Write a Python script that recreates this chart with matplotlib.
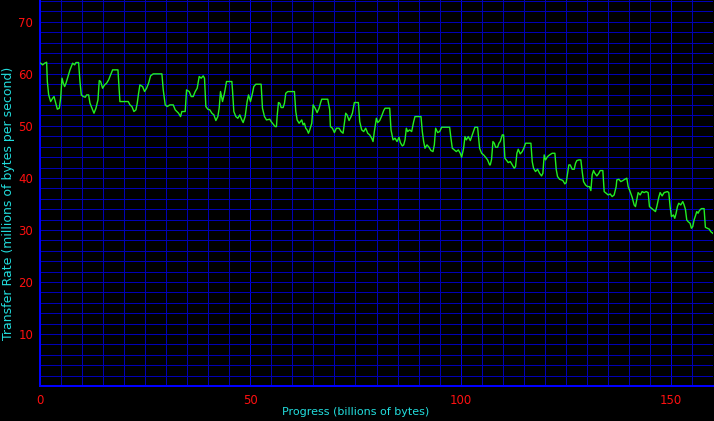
import matplotlib
matplotlib.use("Agg")
import matplotlib.pyplot as plt
import numpy as np

# progress in billions of bytes
progress = [
    0.16, 0.63, 1.11, 1.58, 1.74, 2.06, 2.53, 3.01, 3.33, 3.64, 4.12, 4.59, 4.91, 5.23, 5.54, 5.86,
    6.18, 6.65, 7.13, 7.76, 8.23, 8.55, 9.18, 9.50, 9.82, 10.29, 10.77, 11.08, 11.56, 11.88, 12.35,
    12.83, 13.30, 13.78, 14.09, 14.41, 14.88, 15.36, 15.83, 16.31, 16.78, 17.26, 18.53, 19.00, 20.19,
    20.98, 21.38, 21.85, 22.33, 22.80, 23.12, 23.44, 23.75, 24.39, 24.86, 25.34, 25.81, 26.29, 26.92,
    28.98, 29.30, 29.77, 30.25, 30.88, 31.67, 32.15, 32.94, 33.41, 33.73, 34.52, 34.84, 35.47, 35.95,
    36.42, 36.90, 37.37, 37.85, 38.32, 38.80, 39.11, 39.43, 39.90, 40.38, 40.86, 41.33, 41.81, 42.28,
    42.60, 42.91, 43.39, 43.86, 44.34, 45.61, 45.76, 46.08, 46.56, 47.03, 47.51, 47.98, 48.30, 48.77,
    49.25, 49.57, 50.04, 50.51, 50.83, 51.31, 52.57, 52.89, 53.37, 53.84, 54.63,
    54.95, 55.27, 55.58, 55.90, 56.22, 56.37, 56.69, 57.01, 57.33, 57.80, 58.12, 58.43, 58.91, 60.18,
    60.49, 60.81, 61.13, 61.60, 61.92, 62.23, 62.55, 62.87, 63.18, 63.50, 63.82, 64.13, 64.61, 64.93,
    65.40, 65.88, 66.35, 66.67, 66.98, 68.41, 68.88, 69.04, 69.52, 69.99, 70.47, 71.10, 71.58, 72.05,
    72.37, 72.68, 73.00, 73.48, 73.95, 74.27, 74.74, 75.69, 76.01, 76.48, 76.96, 77.43, 77.91, 78.38,
    78.86, 79.18, 79.49, 79.97, 80.29, 80.76, 81.24, 81.71, 82.03, 83.14, 83.45, 83.93, 84.40, 84.88,
    85.35, 85.67, 86.14, 86.46, 86.78, 87.09, 87.41, 87.89, 88.36, 88.84, 89.15, 90.58, 90.89, 91.21,
    91.53, 92.00, 92.48, 92.95, 93.43, 93.75, 94.06, 94.54, 95.01, 95.49, 97.39, 97.70, 98.02, 98.50,
    98.97, 99.45, 99.92, 100.24, 100.71, 101.03, 101.35, 101.82, 102.30, 102.77, 103.40, 104.04,
    104.51, 104.99, 105.46, 105.94, 106.41, 106.89,
    107.05, 107.36, 107.68, 108.00, 108.31, 108.79, 109.10, 109.42, 109.90, 110.21, 110.53, 110.85,
    111.32, 111.80, 112.27, 112.75, 113.06, 113.38, 113.70, 114.17, 114.65, 115.12, 115.44, 116.71,
    117.02, 117.34, 117.81, 118.29, 118.76, 119.24, 119.56, 119.87, 120.19, 120.67, 121.14, 121.77,
    122.41, 122.72, 123.04, 123.52, 123.99, 124.31, 124.78, 125.10, 125.42, 125.73, 126.05, 126.52,
    127.00, 127.32, 127.63, 128.11, 128.58, 128.90, 129.22, 129.69, 130.17, 130.64, 130.96, 131.27,
    131.59, 131.91, 132.38, 132.86, 133.17, 133.81, 134.13, 134.60, 135.08, 135.55, 136.03, 136.50,
    136.98, 137.13, 137.61, 138.08, 138.56, 139.03, 139.51, 139.83, 140.30, 140.78, 141.25, 141.57,
    141.88, 142.20, 142.68, 143.15, 143.63, 144.10, 144.58, 144.89, 145.37, 145.84, 146.32, 146.64,
    147.11, 147.43, 147.90, 148.38, 149.17, 149.49, 149.80, 150.12, 150.59, 150.91, 151.23, 151.54,
    151.86, 152.34, 152.81, 153.13, 153.44, 153.76, 154.08, 154.55, 154.87, 155.19, 155.50, 155.82,
    156.14, 156.45, 156.77, 157.25, 157.88, 158.19, 158.67, 159.14, 159.46, 159.94,
]

# transfer rate in millions of bytes per second
rate = [
    62.05, 61.73, 62.05, 62.24, 58.53, 55.96, 54.68, 55.32, 55.64, 54.68, 53.21, 53.40, 55.32, 59.17, 58.21, 57.56,
    58.21, 59.49, 60.77, 62.05, 61.73, 62.18, 62.18, 58.53, 55.96, 55.64, 55.51, 55.96, 55.96, 54.36, 53.40,
    52.44, 53.40, 55.00, 58.72, 58.53, 57.24, 57.88, 58.21, 58.85, 59.81, 60.77, 60.77, 54.68, 54.68,
    54.68, 54.04, 53.72, 52.76, 53.08, 54.36, 56.28, 57.88, 57.56, 56.60, 57.24, 58.21, 59.62, 60.00,
    60.00, 56.92, 54.04, 53.72, 54.04, 54.04, 53.08, 52.44, 51.79, 52.76, 52.76, 56.92, 56.60, 55.64,
    55.64, 56.60, 57.24, 59.49, 59.17, 59.62, 59.17, 53.72, 53.21, 53.08, 52.44, 52.12, 51.03, 51.79,
    53.40, 56.60, 54.68, 56.28, 58.53, 58.53, 56.92, 52.76, 51.79, 51.47, 52.12, 51.15, 50.64, 51.79,
    54.68, 55.96, 54.68, 56.28, 57.56, 58.01, 58.01, 53.40, 51.79, 51.15, 51.28,
    50.83, 50.51, 50.19, 49.87, 49.87, 51.79, 54.49, 54.36, 53.53, 53.53, 54.36, 56.28, 56.60, 56.60,
    56.60, 52.76, 51.15, 50.51, 50.83, 51.15, 50.19, 50.51, 49.55, 49.23, 48.59, 49.23, 50.51, 54.04,
    53.40, 52.56, 53.40, 54.36, 55.13, 55.13, 53.08, 49.87, 49.55, 48.72, 49.55, 49.55, 48.91, 48.59,
    50.51, 52.44, 52.12, 51.03, 51.79, 52.44, 54.49, 54.49, 50.83, 49.23, 48.91, 49.55, 48.59, 48.27,
    47.63, 46.99, 48.91, 51.47, 50.64, 51.03, 51.92, 52.95, 53.40, 53.40, 49.23, 47.31, 47.63, 46.99,
    47.82, 46.79, 46.15, 46.35, 47.31, 49.55, 48.91, 49.23, 48.91, 50.83, 51.79, 51.79, 48.91, 46.99,
    45.71, 46.35, 45.90, 45.26, 45.06, 46.35, 49.55, 48.72, 48.91, 49.74, 49.74, 47.63, 45.71, 45.38,
    45.06, 45.38, 44.74, 43.97, 45.71, 47.95, 47.31, 47.95, 47.18, 48.27, 49.74, 49.74,
    45.71, 44.74, 44.42, 43.97, 43.46, 42.50,
    42.50, 43.59, 46.99, 46.67, 45.90, 45.90, 46.67, 46.99, 48.27, 48.27, 43.78, 43.46,
    42.95, 43.14, 42.50, 41.86, 42.18, 44.74, 45.51, 44.62, 45.06, 45.90, 46.67, 46.67,
    43.14, 41.86, 41.22, 41.67, 40.90, 40.38, 40.90, 44.42, 43.46, 44.10, 44.42, 44.74,
    44.74, 41.67, 40.26, 39.74, 39.62, 39.49, 38.85, 39.10, 40.90, 42.50, 42.50, 41.67,
    41.67, 42.82, 43.33, 43.46, 43.46, 41.22, 39.29, 38.65, 38.33, 38.33, 37.56, 40.58,
    41.41, 40.90, 40.38, 40.90, 41.41, 41.41, 37.37, 37.05, 36.73, 36.92, 36.41, 36.73,
    38.33, 39.62, 39.74, 39.29, 39.49, 39.74, 39.94, 38.33, 37.37, 36.28, 34.81, 34.49,
    35.77, 37.18, 36.73, 37.37, 37.18, 37.37, 37.18, 34.49, 34.17, 33.85, 33.53, 34.49,
    36.28, 37.18, 36.54, 37.18, 37.37, 37.18, 34.49, 32.56, 32.88, 32.24, 33.21, 34.49,
    35.13, 34.81, 35.45, 34.81, 33.97, 31.92, 31.60, 31.28, 30.32, 30.64, 31.92, 32.69,
    33.53, 33.21, 33.72, 34.10, 34.10, 30.51, 30.32, 30.13, 29.68, 29.36,
]

x_ticks = [0, 50, 100, 150]
y_ticks = [10, 20, 30, 40, 50, 60, 70]

bg = "#000000"
label_col = "#22dddd"
tick_col = "#ff1010"
grid_col = "#0000b4"

fig = plt.figure(figsize=(7.14, 4.21), dpi=100, facecolor=bg)
ax = fig.add_axes([40 / 714, 35 / 421, 673 / 714, 386 / 421], facecolor=bg)

ax.plot(progress, rate, color="#22ee22", linewidth=1.0, zorder=3)

ax.set_xlim(0, 160)
ax.set_ylim(0, 74.2)

ax.set_xticks(x_ticks)
ax.set_yticks(y_ticks)

# grid every 5 on x and every 2 on y, exactly 1px wide
px = 72 / 100
for gx in np.arange(5, 160, 5):
    ax.axvline(gx, color="#0000e6" if gx % 50 == 0 else grid_col, linewidth=px,
               snap=True, zorder=1)
for gy in np.arange(2, 75, 2):
    ax.axhline(gy, color=grid_col, linewidth=px, snap=True, zorder=1)

for side in ["top", "right"]:
    ax.spines[side].set_visible(False)
for side in ["left", "bottom"]:
    ax.spines[side].set_color("#0000ff")
    ax.spines[side].set_linewidth(2 * px)

ax.tick_params(which="both", length=0, colors=tick_col, labelsize=8.5)
ax.tick_params(axis="x", pad=6)
ax.tick_params(axis="y", pad=5)

fig.text(356 / 714, 1 - 412 / 421, "Progress (billions of bytes)", color=label_col,
         fontsize=8, ha="center", va="center")
fig.text(9 / 714, 1 - 203 / 421, "Transfer Rate (millions of bytes per second)", color=label_col,
         fontsize=9, ha="center", va="center", rotation=90)

fig.savefig("out.png", dpi=100, facecolor=bg)
